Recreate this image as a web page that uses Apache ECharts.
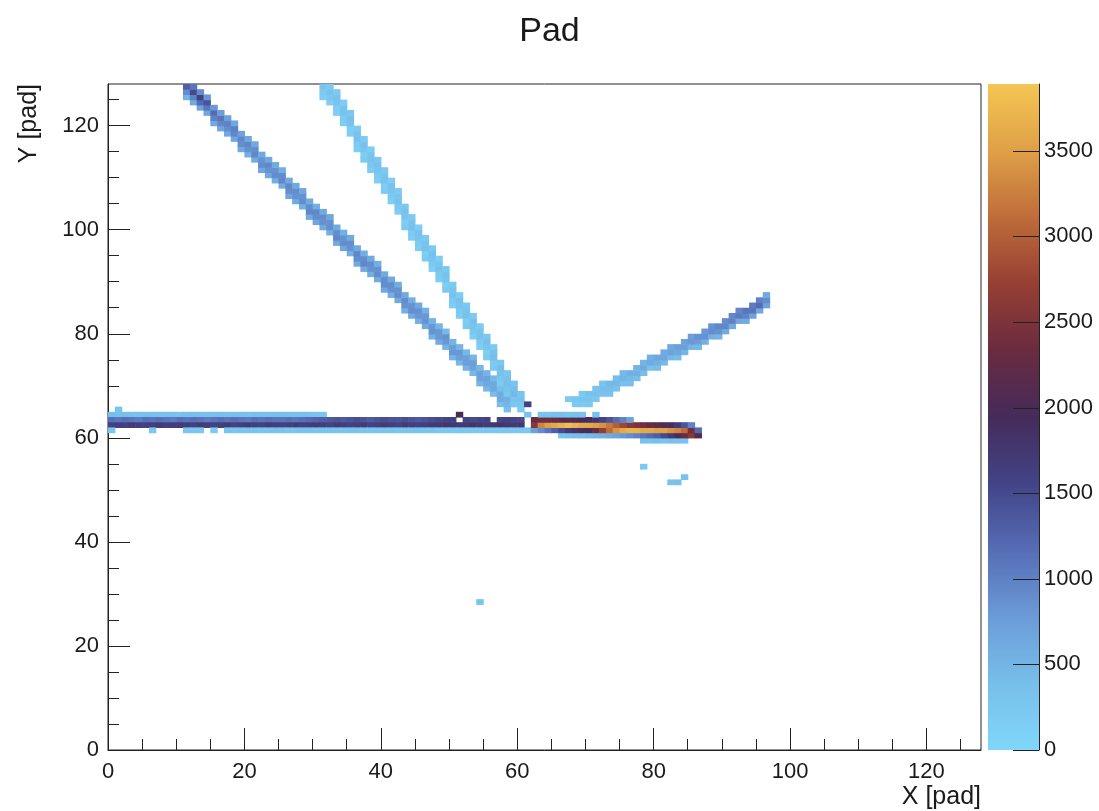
<!DOCTYPE html>
<html>
<head>
<meta charset="utf-8">
<title>Pad</title>
<script src="https://cdn.jsdelivr.net/npm/echarts@6/dist/echarts.min.js"></script>
<style>
  html, body { margin: 0; padding: 0; background: #fff; }
  #chart { width: 1099px; height: 811px; }
</style>
</head>
<body>
<div id="chart"></div>
<script>
// Pad-plane charge map: 128 x 128 pads, charge per pad in ADC units.

const NPADS = 128;
const Z_MAX = 3890;

const axisTicks  = [0, 20, 40, 60, 80, 100, 120];
const minorTicks = [0, 5, 10, 15, 20, 25, 30, 35, 40, 45, 50, 55, 60, 65, 70, 75,
                    80, 85, 90, 95, 100, 105, 110, 115, 120, 125];
const zTicks     = [0, 500, 1000, 1500, 2000, 2500, 3000, 3500];

// Colour scale, low charge -> high charge
const palette = ['#80d6fa', '#77bfea', '#6b9bd8', '#566db6', '#424487', '#452b5a',
                 '#6a2b40', '#963f33', '#bf6c3a', '#dfa047', '#f4c653'];

// Steep track entering from the top-left: [pad x, first pad y, charges upward]
const trackA = [
  [11, 125, [500, 900, 1300]],
  [12, 124, [600, 1000, 1500, 1100]],
  [13, 123, [700, 1200, 1600, 900]],
  [14, 122, [650, 1100, 1400, 800]],
  [15, 120, [600, 1000, 1200, 800]],
  [16, 119, [650, 950, 1100, 750]],
  [17, 118, [600, 900, 1000, 700]],
  [18, 117, [650, 950, 1000, 650]],
  [19, 115, [600, 900, 950, 700]],
  [20, 114, [550, 850, 950, 650]],
  [21, 113, [600, 950, 900, 600]],
  [22, 111, [650, 900, 850, 600]],
  [23, 110, [600, 850, 950, 650]],
  [24, 109, [550, 900, 850, 600]],
  [25, 108, [600, 950, 900, 550]],
  [26, 106, [650, 900, 950, 600]],
  [27, 105, [600, 850, 900, 600]],
  [28, 104, [550, 900, 850, 650]],
  [29, 102, [600, 950, 900, 600]],
  [30, 101, [650, 900, 950, 550]],
  [31, 100, [600, 850, 900, 600]],
  [32, 99, [550, 900, 850, 650]],
  [33, 97, [600, 950, 900, 600]],
  [34, 96, [650, 900, 850, 550]],
  [35, 95, [550, 850, 900, 600]],
  [36, 93, [600, 900, 950, 600]],
  [37, 92, [600, 950, 900, 550]],
  [38, 91, [550, 850, 900, 600]],
  [39, 90, [600, 900, 850, 550]],
  [40, 88, [650, 900, 900, 600]],
  [41, 87, [550, 850, 900, 600]],
  [42, 86, [600, 900, 850, 550]],
  [43, 84, [550, 850, 900, 600]],
  [44, 83, [600, 900, 850, 550]],
  [45, 82, [550, 800, 850, 600]],
  [46, 81, [600, 850, 800, 550]],
  [47, 79, [550, 850, 800, 500]],
  [48, 78, [600, 800, 800, 500]],
  [49, 77, [500, 800, 850, 450]],
  [50, 75, [500, 800, 750, 500]],
  [51, 74, [450, 750, 800, 500]],
  [52, 73, [500, 750, 700, 450]],
  [53, 72, [450, 700, 750, 500]],
  [54, 70, [500, 700, 700, 450]],
  [55, 69, [450, 650, 700, 500]],
  [56, 68, [400, 650, 600, 450]],
  [57, 66, [400, 600, 600, 400]],
  [58, 65, [350, 500, 550, 400]],
  [59, 66, [450, 400, 300]]
];

// Faint, steeper track to its right
const trackB = [
  [31, 125, [150, 200, 300]],
  [32, 124, [150, 250, 350, 250]],
  [33, 122, [150, 150, 300, 350, 200]],
  [34, 120, [150, 200, 350, 300, 150]],
  [35, 118, [150, 150, 300, 350, 250]],
  [36, 115, [150, 200, 350, 300, 200]],
  [37, 113, [200, 150, 300, 350, 200]],
  [38, 111, [150, 250, 350, 300, 150]],
  [39, 109, [150, 200, 300, 350, 250]],
  [40, 107, [200, 150, 350, 300, 200]],
  [41, 105, [150, 200, 300, 350, 150]],
  [42, 103, [150, 250, 350, 300, 200]],
  [43, 100, [200, 150, 300, 350, 250]],
  [44, 98, [150, 200, 350, 300, 200]],
  [45, 96, [150, 200, 300, 350, 150]],
  [46, 94, [200, 150, 350, 300, 200]],
  [47, 92, [150, 250, 300, 350, 200]],
  [48, 90, [150, 200, 350, 300, 150]],
  [49, 88, [200, 150, 300, 350, 250]],
  [50, 85, [150, 200, 350, 300, 200]],
  [51, 83, [150, 200, 300, 350, 150]],
  [52, 81, [200, 150, 350, 300, 250]],
  [53, 79, [150, 250, 300, 350, 200]],
  [54, 77, [150, 200, 350, 300, 200]],
  [55, 75, [200, 150, 300, 400, 250]],
  [56, 73, [200, 200, 400, 350, 200]],
  [57, 70, [200, 250, 350, 400, 250]],
  [58, 68, [250, 300, 400, 350, 250]],
  [59, 66, [250, 300, 450, 400, 300]],
  [60, 65, [200, 250, 350, 300]]
];

// Rising track towards the upper right
const trackC = [
  [67, 67, [200]],
  [68, 66, [200, 250]],
  [69, 66, [200, 300, 200]],
  [70, 66, [250, 300, 350]],
  [71, 67, [250, 350, 300]],
  [72, 68, [300, 400, 300]],
  [73, 68, [300, 400, 450]],
  [74, 69, [300, 450, 400]],
  [75, 70, [350, 500, 450]],
  [76, 70, [350, 450, 550]],
  [77, 71, [400, 550, 500]],
  [78, 72, [400, 600, 500]],
  [79, 73, [350, 600, 550]],
  [80, 73, [400, 550, 650]],
  [81, 74, [450, 650, 600]],
  [82, 75, [450, 700, 650]],
  [83, 75, [400, 650, 750]],
  [84, 76, [500, 750, 700]],
  [85, 77, [500, 800, 750]],
  [86, 77, [450, 750, 850]],
  [87, 78, [550, 850, 800]],
  [88, 79, [550, 900, 850]],
  [89, 79, [500, 850, 950]],
  [90, 80, [600, 950, 900]],
  [91, 81, [600, 1000, 950]],
  [92, 82, [650, 1050, 950]],
  [93, 82, [600, 1000, 1100]],
  [94, 83, [700, 1100, 1050]],
  [95, 84, [650, 1200, 1000]],
  [96, 85, [700, 900, 600]]
];

// Beam track along y ~ 62: charges per pad row, starting at pad x = 0
const beamRow64 = [400, 350, 380, 360, 340, 370, 350, 330, 360, 380, 340, 350, 370, 360, 330, 350,
                   380, 340, 360, 350, 330, 370, 360, 340, 350, 380, 360, 330, 350, 340, 300, 250];
const beamRow63 = [1150, 1100, 1150, 1100, 1050, 1150, 1100, 1150, 1100, 1050, 1150, 1100, 1150, 1100, 1050, 1100,
                   1150, 1100, 1150, 1100, 1050, 1150, 1100, 1150, 1100, 1100, 1150, 1100, 1150, 1200, 1250, 1300,
                   1350, 1400, 1350, 1400, 1450, 1400, 1350, 1400, 1450, 1400, 1400, 1450, 1400, 1350, 1400, 1450,
                   1500, 1550, 1600, 0, 1550, 1500, 1550, 1600, 0, 1550, 1600, 1550, 1500];
const beamRow62 = [1600, 1650, 1600, 1700, 1650, 1600, 1650, 1700, 1600, 1650, 1700, 1650, 1600, 1700, 1650, 1600,
                   1650, 1700, 1600, 1650, 1700, 1650, 1600, 1700, 1650, 1600, 1650, 1700, 1600, 1650, 1700, 1650,
                   1600, 1700, 1650, 1600, 1650, 1700, 1600, 1650, 1700, 1650, 1600, 1700, 1650, 1600, 1650, 1700,
                   1750, 1800, 1750, 1700, 1750, 1800, 1750, 1700, 1750, 1800, 1750, 1700, 1750, 0];
const beamRow61 = [250, 0, 0, 0, 0, 0, 250, 0, 0, 0, 0, 250, 250, 250, 0, 200,
                   0, 300, 280, 300, 320, 300, 280, 300, 320, 300, 280, 300, 320, 300, 280, 300,
                   320, 300, 280, 300, 320, 300, 280, 300, 320, 300, 280, 300, 320, 300, 280, 300,
                   250, 260, 240, 250, 260, 240, 250, 260, 240, 250, 260, 240, 250, 260];

// Stopping region of the beam track: [pad x, first pad y, charges upward]
const beamEnd = [
  [62, 61, [700, 2600, 2300]],
  [63, 61, [900, 3300, 2400, 300]],
  [64, 61, [1100, 3500, 2400, 300]],
  [65, 61, [1300, 3600, 2300, 350]],
  [66, 60, [300, 1500, 3700, 2200, 350]],
  [67, 60, [350, 1700, 3800, 2200, 300]],
  [68, 60, [400, 1800, 3700, 2100, 350]],
  [69, 60, [400, 1900, 3600, 2000, 300]],
  [70, 60, [450, 2000, 3600, 1900]],
  [71, 60, [500, 2300, 3500, 1800, 300]],
  [72, 60, [550, 2700, 3400, 1600]],
  [73, 60, [600, 3100, 3200, 1400]],
  [74, 60, [700, 3400, 3000, 1200]],
  [75, 60, [800, 3600, 2800, 1000]],
  [76, 60, [900, 3700, 2600, 700]],
  [77, 60, [1000, 3700, 2500]],
  [78, 59, [300, 1100, 3600, 2400]],
  [79, 59, [300, 1200, 3600, 2300]],
  [80, 59, [350, 1300, 3500, 2200]],
  [81, 59, [300, 1500, 3500, 2100]],
  [82, 59, [350, 1700, 3400, 1900]],
  [83, 59, [300, 2000, 3300, 1700]],
  [84, 59, [300, 2300, 3100, 1400]],
  [85, 60, [2600, 2400, 1000]],
  [86, 60, [2100, 1200]]
];

// Isolated pads: [pad x, pad y, charge]
const isolatedPads = [
  [1, 65, 300], [51, 64, 2000], [61, 64, 300], [61, 66, 1600],
  [78, 54, 200], [82, 51, 300], [83, 51, 350], [84, 52, 300], [54, 28, 300]
];

// ---- assemble [x, y, charge] cells ----
const cells = [];
function addColumns(list) {
  list.forEach(([x, y0, qs]) => qs.forEach((q, k) => { if (q > 0) cells.push([x, y0 + k, q]); }));
}
function addRow(y, qs) {
  qs.forEach((q, x) => { if (q > 0) cells.push([x, y, q]); });
}
addColumns(trackA);
addColumns(trackB);
addColumns(trackC);
addRow(64, beamRow64);
addRow(63, beamRow63);
addRow(62, beamRow62);
addRow(61, beamRow61);
addColumns(beamEnd);
isolatedPads.forEach(c => cells.push(c));

const FONT = '"Liberation Sans", Arial, Helvetica, sans-serif';
const TXT = '#1a1a1a';

const chart = echarts.init(document.getElementById('chart'), null, { renderer: 'canvas' });

function renderCell(params, api) {
  const x = api.value(0), y = api.value(1);
  const a = api.coord([x, y + 1]);
  const b = api.coord([x + 1, y]);
  return {
    type: 'rect',
    shape: { x: a[0], y: a[1], width: b[0] - a[0] + 0.6, height: b[1] - a[1] + 0.6 },
    style: { fill: api.visual('color') }
  };
}

// Colour scale bar with its tick marks, drawn over the gradient
function renderBar(params, api) {
  const top = api.coord([0, api.value(1)]);
  const bottom = api.coord([1, 0]);
  const stops = palette.map((c, i) => ({ offset: i / (palette.length - 1), color: c }));
  const children = [{
    type: 'rect',
    shape: { x: top[0], y: top[1], width: bottom[0] - top[0], height: bottom[1] - top[1] },
    style: { fill: new echarts.graphic.LinearGradient(0, 1, 0, 0, stops) }
  }];
  zTicks.forEach(v => {
    const p = api.coord([1, v]);
    children.push({
      type: 'line',
      shape: { x1: p[0] - 26, y1: Math.round(p[1]) + 0.5, x2: p[0], y2: Math.round(p[1]) + 0.5 },
      style: { stroke: '#222', lineWidth: 1 }
    });
  });
  return { type: 'group', children };
}

const tickFont = { color: TXT, fontFamily: FONT, fontSize: 22 };
const nameFont = { color: TXT, fontFamily: FONT, fontSize: 25 };
const plain = v => String(v);

chart.setOption({
  animation: false,
  backgroundColor: '#fff',
  title: {
    text: 'Pad', left: 'center', top: 10,
    textStyle: { color: TXT, fontFamily: FONT, fontSize: 34, fontWeight: 'normal' }
  },
  grid: [
    { left: 108, right: 118, top: 84, bottom: 61, show: true, borderColor: '#222', borderWidth: 1,
      backgroundColor: '#fff', containLabel: false, outerBoundsMode: 'none' },
    { left: 988, width: 51, top: 84, bottom: 61, containLabel: false, outerBoundsMode: 'none' }
  ],
  xAxis: [
    { type: 'value', gridIndex: 0, min: 0, max: NPADS,
      name: 'X [pad]', nameLocation: 'end', nameGap: 0, nameMoveOverlap: false,
      nameTextStyle: Object.assign({ align: 'right', verticalAlign: 'top', padding: [35, 0, 0, 0] }, nameFont),
      axisLine: { show: true, onZero: false, lineStyle: { color: '#222', width: 1 } },
      axisTick: { show: true, inside: true, length: 22, customValues: axisTicks, lineStyle: { color: '#222' } },
      axisLabel: Object.assign({ customValues: axisTicks, margin: 11, formatter: plain }, tickFont),
      splitLine: { show: false } },
    { type: 'value', gridIndex: 0, min: 0, max: NPADS, position: 'bottom',
      axisLine: { show: false, onZero: false }, axisLabel: { show: false }, splitLine: { show: false },
      axisTick: { show: true, inside: true, length: 11, customValues: minorTicks, lineStyle: { color: '#222' } } },
    { type: 'value', gridIndex: 1, min: 0, max: 1, show: false }
  ],
  yAxis: [
    { type: 'value', gridIndex: 0, min: 0, max: NPADS,
      name: 'Y [pad]', nameLocation: 'end', nameGap: 0, nameRotate: 90, nameMoveOverlap: false,
      nameTextStyle: Object.assign({ align: 'right', verticalAlign: 'bottom', padding: [0, 0, 66, 0] }, nameFont),
      axisLine: { show: true, onZero: false, lineStyle: { color: '#222', width: 1 } },
      axisTick: { show: true, inside: true, length: 22, customValues: axisTicks, lineStyle: { color: '#222' } },
      axisLabel: Object.assign({ customValues: axisTicks, margin: 9, formatter: plain }, tickFont),
      splitLine: { show: false } },
    { type: 'value', gridIndex: 0, min: 0, max: NPADS, position: 'left',
      axisLine: { show: false, onZero: false }, axisLabel: { show: false }, splitLine: { show: false },
      axisTick: { show: true, inside: true, length: 11, customValues: minorTicks, lineStyle: { color: '#222' } } },
    { type: 'value', gridIndex: 1, min: 0, max: Z_MAX, position: 'right', z: 5,
      axisLine: { show: true, onZero: false, lineStyle: { color: '#222', width: 1 } },
      axisTick: { show: false },
      axisLabel: Object.assign({ customValues: zTicks, margin: 5, formatter: plain }, tickFont),
      splitLine: { show: false } }
  ],
  visualMap: {
    type: 'continuous', show: false, min: 0, max: Z_MAX, dimension: 2, seriesIndex: 0,
    inRange: { color: palette }
  },
  series: [
    { type: 'custom', name: 'charge', xAxisIndex: 0, yAxisIndex: 0, clip: true,
      renderItem: renderCell, encode: { x: 0, y: 1 }, data: cells },
    { type: 'custom', name: 'scale', xAxisIndex: 2, yAxisIndex: 2, silent: true,
      renderItem: renderBar, encode: { x: 0, y: 1 }, data: [[0, Z_MAX]] }
  ]
});
</script>
</body>
</html>
